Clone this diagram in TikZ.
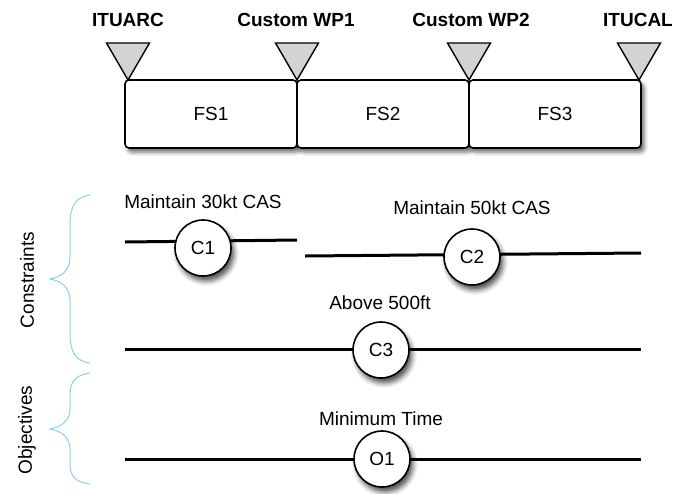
\documentclass[tikz,border=0pt]{standalone}
\usepackage{fontspec}
\setmainfont{Liberation Sans}
\usetikzlibrary{shadows.blur}

\definecolor{bracecol}{RGB}{137,207,240}
\definecolor{wpgray}{RGB}{211,211,211}

\tikzset{
  segbox/.style={draw=black, line width=1.6pt, rounded corners=4pt, fill=white,
    minimum width=172pt, minimum height=68pt, inner sep=0pt,
    font=\fontsize{19}{21}\selectfont,
    blur shadow={shadow xshift=3pt, shadow yshift=-4pt, shadow opacity=60, shadow blur radius=4pt}},
  wptri/.style={draw=black, line width=1.4pt, fill=wpgray, line join=miter},
  wplabel/.style={font=\bfseries\fontsize{19}{21}\selectfont, inner sep=0pt},
  tag/.style={font=\fontsize{19}{21}\selectfont, inner sep=0pt},
  ball/.style={circle, draw=black, line width=1.6pt, fill=white, minimum size=56pt, inner sep=0pt,
    font=\fontsize{19}{21}\selectfont,
    blur shadow={shadow xshift=3pt, shadow yshift=-5pt, shadow opacity=70, shadow blur radius=5pt}},
  track/.style={line width=3pt, draw=black},
  bracket/.style={draw=bracecol, line width=1pt},
  side/.style={font=\fontsize{19}{21}\selectfont, rotate=90, inner sep=0pt}
}

\begin{document}
\begin{tikzpicture}[x=1pt, y=-1pt]
  \useasboundingbox (0,0) rectangle (684,493);

  % flight segments
  \node[segbox] (fs1) at (211,114) {FS1};
  \node[segbox] (fs2) at (383,114) {FS2};
  \node[segbox] (fs3) at (555,114) {FS3};

  % waypoint markers
  \foreach \n/\x in {w0/128, w1/297, w2/469, w3/639} {
    \draw[wptri] (\x-21.5,43) -- (\x+21.5,43) -- (\x,80) -- cycle;
    \coordinate (\n) at (\x,80);
  }
  \node[wplabel] (l0) at (128,20) {ITUARC};
  \node[wplabel] (l1) at (296,20) {Custom WP1};
  \node[wplabel] (l2) at (471,20) {Custom WP2};
  \node[wplabel] (l3) at (638,20) {ITUCAL};

  % constraint tracks
  \coordinate (c1a) at (125,242);
  \coordinate (c1b) at (297,240);
  \draw[track] (c1a) -- (c1b);
  \node[ball] (c1) at (203,248) {C1};
  \node[tag] (t1) at (203,202) {Maintain 30kt CAS};

  \coordinate (c2a) at (305,256);
  \coordinate (c2b) at (641,253);
  \draw[track] (c2a) -- (c2b);
  \node[ball] (c2) at (472,257) {C2};
  \node[tag] (t2) at (472,208) {Maintain 50kt CAS};

  \coordinate (c3a) at (125,349);
  \coordinate (c3b) at (641,349);
  \draw[track] (c3a) -- (c3b);
  \node[ball] (c3) at (381,350) {C3};
  \node[tag] (t3) at (380,303) {Above 500ft};

  % objective track
  \coordinate (o1a) at (125,459);
  \coordinate (o1b) at (641,459);
  \draw[track] (o1a) -- (o1b);
  \node[ball] (o1) at (382,459) {O1};
  \node[tag] (t4) at (381,419) {Minimum Time};

  % group braces
  \draw[bracket] (90,195) .. controls (76,197) and (70,205) .. (70,225)
    -- (70,257) .. controls (70,271) and (61,277) .. (50,279)
    .. controls (61,281) and (70,287) .. (70,301)
    -- (70,333) .. controls (70,353) and (76,361) .. (90,363);
  \node[side] (gc) at (27,280) {Constraints};

  \draw[bracket] (90,373) .. controls (76,375) and (70,381) .. (70,395)
    -- (70,409) .. controls (70,421) and (61,427) .. (50,429)
    .. controls (61,431) and (70,437) .. (70,449)
    -- (70,464) .. controls (70,477) and (76,482) .. (90,484);
  \node[side] (go) at (27,430) {Objectives};
\end{tikzpicture}
\end{document}
